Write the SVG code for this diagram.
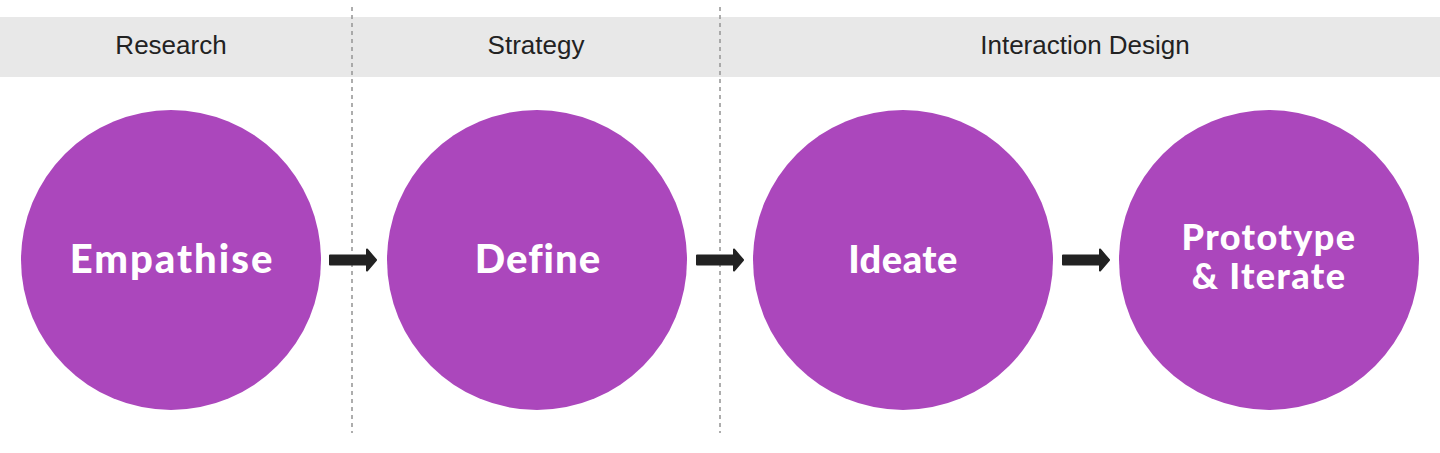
<svg xmlns="http://www.w3.org/2000/svg" width="1440" height="453" viewBox="0 0 1440 453">
<defs>
<style>
.band{fill:#e8e8e8}
.phase{font-family:"Liberation Sans","Roboto",sans-serif;font-size:26px;fill:#222;text-anchor:middle}
.divider{stroke:#999;stroke-width:1.6;stroke-dasharray:4 4;fill:none}
.node{fill:#ab47bc}
.label{font-family:"Lato","Noto Sans",sans-serif;font-weight:900;font-size:40px;fill:#fff;text-anchor:middle;letter-spacing:1.5px}
.label2{font-family:"Lato","Noto Sans",sans-serif;font-weight:900;font-size:36px;fill:#fff;text-anchor:middle;letter-spacing:1.4px}
.arrow{fill:#222;stroke:#222;stroke-width:2;stroke-linejoin:round}
</style>
<path id="arr" d="M0,-4.5 H37 V-10.5 L46,0 L37,10.5 V4.5 H0 Z"/>
</defs>
<rect width="1440" height="453" fill="#fff"/>
<g id="header">
<rect class="band" x="0" y="17" width="1440" height="60"/>
<text class="phase" x="171" y="54">Research</text>
<text class="phase" x="536" y="54">Strategy</text>
<text class="phase" x="1085" y="54">Interaction Design</text>
</g>
<g id="dividers">
<line class="divider" x1="352" y1="7" x2="352" y2="433"/>
<line class="divider" x1="720" y1="7" x2="720" y2="433"/>
</g>
<g id="node-empathise">
<circle class="node" cx="171" cy="260" r="150"/>
<text class="label" x="172" y="273" style="letter-spacing:2px">Empathise</text>
</g>
<g id="node-define">
<circle class="node" cx="537" cy="260" r="150"/>
<text class="label" x="538" y="273" style="letter-spacing:1px">Define</text>
</g>
<g id="node-ideate">
<circle class="node" cx="903" cy="260" r="150"/>
<text class="label" x="903" y="273" style="font-size:38px;letter-spacing:0.5px">Ideate</text>
</g>
<g id="node-prototype">
<circle class="node" cx="1269" cy="260" r="150"/>
<text class="label2" x="1269" y="250"><tspan x="1269" y="250">Prototype</tspan><tspan x="1269" y="289">&amp; Iterate</tspan></text>
</g>
<g id="connectors">
<use href="#arr" class="arrow" transform="translate(330,260)"/>
<use href="#arr" class="arrow" transform="translate(697,260)"/>
<use href="#arr" class="arrow" transform="translate(1063,260)"/>
</g>
</svg>
